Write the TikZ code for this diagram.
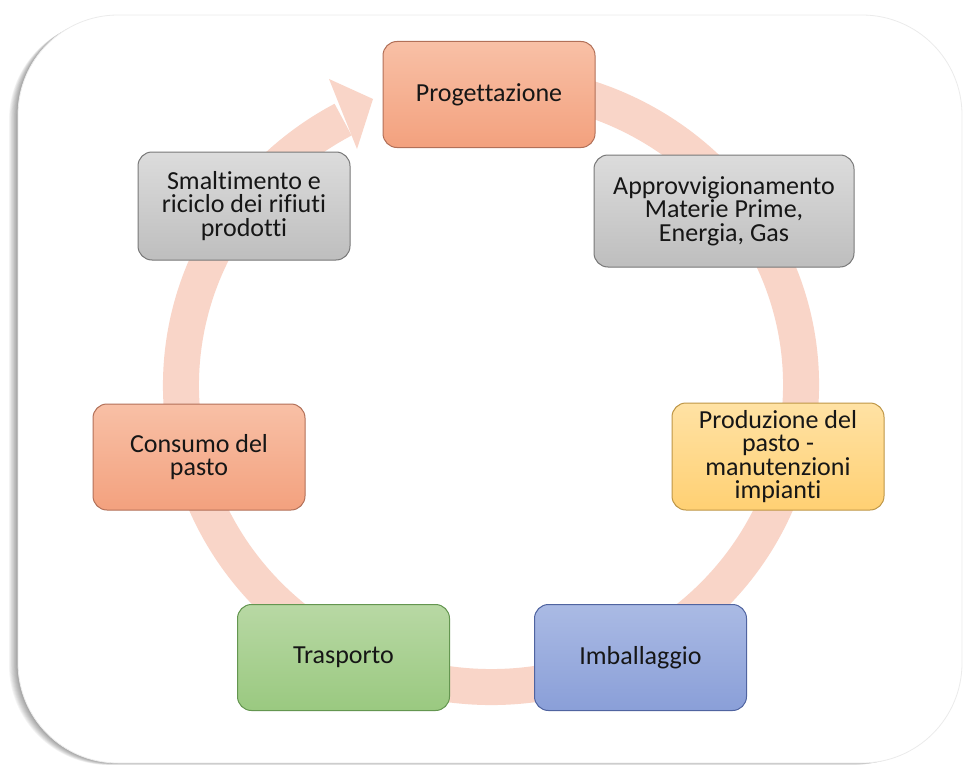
\documentclass[tikz,border=0pt]{standalone}
\usepackage{fontspec}
\setmainfont{Carlito}[Ligatures={NoCommon}]
\usetikzlibrary{calc}
\definecolor{ringc}{RGB}{249,213,200}
\definecolor{txt}{RGB}{22,22,22}
\definecolor{salT}{RGB}{248,192,166}
\definecolor{salB}{RGB}{243,161,126}
\definecolor{salD}{RGB}{178,112,88}
\definecolor{grT}{RGB}{220,220,220}
\definecolor{grB}{RGB}{190,190,190}
\definecolor{grD}{RGB}{120,120,120}
\definecolor{yeT}{RGB}{255,226,164}
\definecolor{yeB}{RGB}{255,208,115}
\definecolor{yeD}{RGB}{190,150,70}
\definecolor{blT}{RGB}{170,186,228}
\definecolor{blB}{RGB}{138,159,216}
\definecolor{blD}{RGB}{80,100,160}
\definecolor{gnT}{RGB}{184,216,164}
\definecolor{gnB}{RGB}{154,201,128}
\definecolor{gnD}{RGB}{100,150,80}
\definecolor{frameD}{RGB}{235,235,235}
\begin{document}
\begin{tikzpicture}[x=1pt,y=-1pt,
  cbox/.style={rounded corners=14pt, line width=1pt, minimum width=212pt,
    minimum height=106pt, align=center, text=txt, inner sep=0pt,
    font=\fontsize{26}{23.5}\selectfont},
  salbox/.style={cbox, top color=salT, bottom color=salB, draw=salD},
  graybox/.style={cbox, top color=grT, bottom color=grB, draw=grD},
  yelbox/.style={cbox, top color=yeT, bottom color=yeB, draw=yeD},
  bluebox/.style={cbox, top color=blT, bottom color=blB, draw=blD},
  grnbox/.style={cbox, top color=gnT, bottom color=gnB, draw=gnD},
  ring/.style={draw=ringc, line width=36pt}
]
\useasboundingbox (0,0) rectangle (963,765);
% frame shadow
\foreach \i in {1,...,10}{
  \fill[black, opacity=0.045, rounded corners=100pt]
    (18-\i*0.9, 15+\i*0.5) rectangle (962-\i*0.9, 763+\i*0.2);
}
\fill[white, draw=frameD, line width=0.8pt, rounded corners=100pt] (18,15) rectangle (962,763);
% ring
\coordinate (c) at (491,385);
\coordinate (h1) at (329,79);
\coordinate (h2) at (373,99);
\coordinate (h3) at (357,149);
\draw[ring] ($(c)+(-80:310 and 302)$) arc[start angle=-80, end angle=241.5, x radius=310, y radius=302];
\fill[ringc] (h1) -- (h2) -- (h3) -- cycle;
% boxes
\node[salbox] (prog) at (489,94.5) {Progettazione};
\node[graybox, minimum width=260pt, minimum height=112pt] (appr) at (724,211) {Approvvigionamento\\Materie Prime,\\Energia, Gas};
\node[yelbox, minimum height=107pt] (prod) at (778,456.5) {Produzione del\\pasto -\\manutenzioni\\impianti};
\node[bluebox] (imb) at (640.5,657.5) {Imballaggio};
\node[grnbox] (tra) at (343.5,657.5) {Trasporto};
\node[salbox] (cons) at (199,457) {Consumo del\\pasto};
\node[graybox, minimum height=108pt] (smal) at (244,206) {Smaltimento e\\riciclo dei rifiuti\\prodotti};
\end{tikzpicture}
\end{document}
